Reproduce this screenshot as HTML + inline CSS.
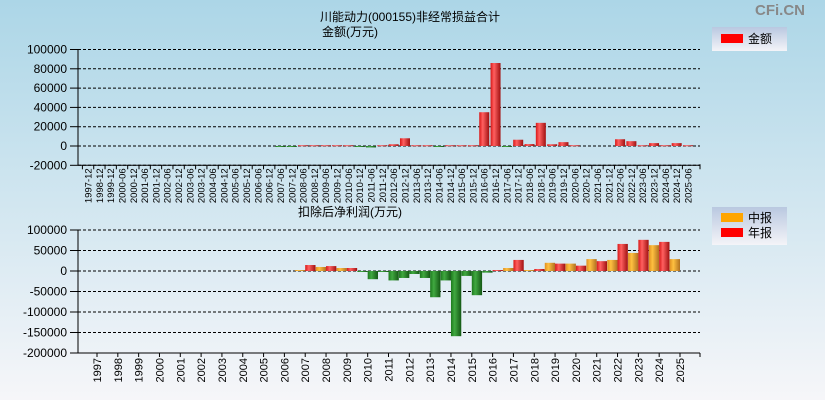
<!DOCTYPE html>
<html><head><meta charset="utf-8"><style>
body{margin:0;width:825px;height:400px;overflow:hidden;font-family:"Liberation Sans","Noto Sans CJK SC",sans-serif}
svg{display:block}
</style></head><body>
<svg id="c" width="825" height="400" xmlns="http://www.w3.org/2000/svg">
<defs>
<linearGradient id="bg" x1="0" y1="0" x2="0" y2="1"><stop offset="0" stop-color="#acd6e7"/><stop offset="1" stop-color="#f6f6f9"/></linearGradient>
<linearGradient id="lg" x1="0" y1="0" x2="0" y2="1"><stop offset="0" stop-color="#b9c8e0"/><stop offset="1" stop-color="#f4f4f8"/></linearGradient>
<linearGradient id="gR" x1="0" x2="1"><stop offset="0" stop-color="#d81818"/><stop offset="0.35" stop-color="#ff6060"/><stop offset="1" stop-color="#a01010"/></linearGradient>
<linearGradient id="gO" x1="0" x2="1"><stop offset="0" stop-color="#e09020"/><stop offset="0.35" stop-color="#ffc040"/><stop offset="1" stop-color="#b07020"/></linearGradient>
<linearGradient id="gG" x1="0" x2="1"><stop offset="0" stop-color="#1e7a1e"/><stop offset="0.35" stop-color="#40a840"/><stop offset="1" stop-color="#145814"/></linearGradient>
</defs>
<rect width="825" height="400" fill="url(#bg)"/>
<text x="780" y="15" font-size="15" fill="#888" font-weight="bold" text-anchor="middle">CFi.CN</text>
<text x="410" y="21" font-size="12" text-anchor="middle">川能动力(000155)非经常损益合计</text>
<text x="350" y="36" font-size="12" text-anchor="middle">金额(万元)</text>
<text x="350" y="216" font-size="12" text-anchor="middle">扣除后净利润(万元)</text>
<g>
<rect x="712" y="27" width="75" height="24" fill="url(#lg)"/>
<rect x="721" y="34" width="22" height="9" fill="#ff0000"/>
<text x="748" y="43" font-size="12">金额</text>
</g>
<g>
<rect x="712" y="207" width="75" height="38" fill="url(#lg)"/>
<rect x="721" y="213" width="22" height="9" fill="#ffa500"/>
<text x="748" y="222" font-size="12">中报</text>
<rect x="721" y="228" width="22" height="9" fill="#ff0000"/>
<text x="748" y="237" font-size="12">年报</text>
</g>
<g id="top"></g><g id="bot"></g>
</svg>
<script>
const topCats=["1997-12","1998-12","1999-12","2000-06","2000-12","2001-06","2001-12","2002-06","2002-12","2003-06","2003-12","2004-06","2004-12","2005-06","2005-12","2006-06","2006-12","2007-06","2007-12","2008-06","2008-12","2009-06","2009-12","2010-06","2010-12","2011-06","2011-12","2012-06","2012-12","2013-06","2013-12","2014-06","2014-12","2015-06","2015-12","2016-06","2016-12","2017-06","2017-12","2018-06","2018-12","2019-06","2019-12","2020-06","2020-12","2021-06","2021-12","2022-06","2022-12","2023-06","2023-12","2024-06","2024-12","2025-06"];
const topVals=[0,0,0,0,0,0,0,0,0,0,0,0,0,0,0,0,0,-500,-800,800,800,800,800,800,-600,-1500,800,1800,8000,800,800,-500,800,800,800,35000,86000,-300,6500,2000,24000,1800,4000,800,0,0,0,7000,5000,800,3000,800,3000,800];
const topTicks=[100000,80000,60000,40000,20000,0,-20000];
const botYears=["1997","1998","1999","2000","2001","2002","2003","2004","2005","2006","2007","2008","2009","2010","2011","2012","2013","2014","2015","2016","2017","2018","2019","2020","2021","2022","2023","2024","2025"];
const midVals=[null,null,null,null,null,null,null,null,null,null,2400,9800,7300,-1000,-2400,-17000,-17000,-23000,-12000,-4000,7300,2400,20000,18000,29000,27000,44000,63000,29000];
const annVals=[null,null,null,null,null,null,null,null,null,null,14600,12000,7300,-20000,-23000,-7300,-64000,-159000,-59000,2400,27000,4900,18000,13000,24000,66000,76000,71000,null];
const botTicks=[100000,50000,0,-50000,-100000,-150000,-200000];
const NS="http://www.w3.org/2000/svg";
function mk(p,t,a){const e=document.createElementNS(NS,t);for(const k in a)e.setAttribute(k,a[k]);p.appendChild(e);return e;}
const X0=78,X1=700;
// top chart
const T=document.getElementById('top');
const ty=v=>146-(v)*(96.5/100000);
const tx=i=>88+i*(600/53);
topTicks.forEach(v=>{
  const y=ty(v);
  const g=mk(T,'line',{x1:X0,x2:X1,y1:y,y2:y,stroke:'#000','stroke-dasharray':'3,2'});
  
  
  mk(T,'line',{x1:70,x2:X0,y1:y,y2:y,stroke:'#000'});
  const t=mk(T,'text',{x:67,y:y+4,'font-size':12,'text-anchor':'end'});t.textContent=v;
  
  
});
mk(T,'line',{x1:X0,x2:X0,y1:ty(100000),y2:ty(-20000),stroke:'#000'});
mk(T,'line',{x1:X0,x2:X1,y1:ty(-20000),y2:ty(-20000),stroke:'#000'});
topCats.forEach((c,i)=>{
  const x=tx(i);
  mk(T,'line',{x1:x-5.6,x2:x-5.6,y1:ty(-20000),y2:ty(-20000)+4,stroke:'#000'});
  const t=mk(T,'text',{x:0,y:0,'font-size':9.5,'text-anchor':'end',transform:`translate(${x+3.5},${ty(-20000)+3}) rotate(-90)`});t.textContent=c;
  
  
  const v=topVals[i]; if(!v) return;
  const y0=ty(0),y1=ty(v);
  const r=mk(T,'rect',{x:x-5,y:Math.min(y0,y1),width:10,height:Math.max(1,Math.abs(y1-y0)),fill:v>=0?'url(#gR)':'url(#gG)'});
  
  
});
mk(T,'line',{x1:X1,x2:X1,y1:ty(-20000)-1,y2:ty(-20000)+4,stroke:'#000'});
// bottom chart
const B=document.getElementById('bot');
const by=v=>271-v*(41/100000);
const bx=i=>97+i*(583/28);
botTicks.forEach(v=>{
  const y=by(v);
  const g=mk(B,'line',{x1:X0,x2:X1,y1:y,y2:y,stroke:'#000','stroke-dasharray':'3,2'});
  
  
  mk(B,'line',{x1:70,x2:X0,y1:y,y2:y,stroke:'#000'});
  const t=mk(B,'text',{x:67,y:y+4,'font-size':12,'text-anchor':'end'});t.textContent=v;
  
  
});
mk(B,'line',{x1:X0,x2:X0,y1:by(100000),y2:by(-200000),stroke:'#000'});
mk(B,'line',{x1:X0,x2:X1,y1:by(-200000),y2:by(-200000),stroke:'#000'});
mk(B,'line',{x1:X1,x2:X1,y1:by(-200000),y2:by(-200000)+4,stroke:'#000'});
botYears.forEach((c,i)=>{
  const x=bx(i);
  mk(B,'line',{x1:x,x2:x,y1:by(-200000),y2:by(-200000)+4,stroke:'#000'});
  const t=mk(B,'text',{x:0,y:0,'font-size':11,'text-anchor':'end',transform:`translate(${x+4},${by(-200000)+5}) rotate(-90)`});t.textContent=c;
  
  
  [[midVals[i],-10.3,'url(#gO)','mid-report-bar'],[annVals[i],0,'url(#gR)','annual-report-bar']].forEach(([v,off,f,n])=>{
    if(v===null) return;
    const y0=by(0),y1=by(v);
    const r=mk(B,'rect',{x:x+off,y:Math.min(y0,y1),width:10.3,height:Math.max(1,Math.abs(y1-y0)),fill:v>=0?f:'url(#gG)'});
    
    
  });
});
</script>
</body></html>
